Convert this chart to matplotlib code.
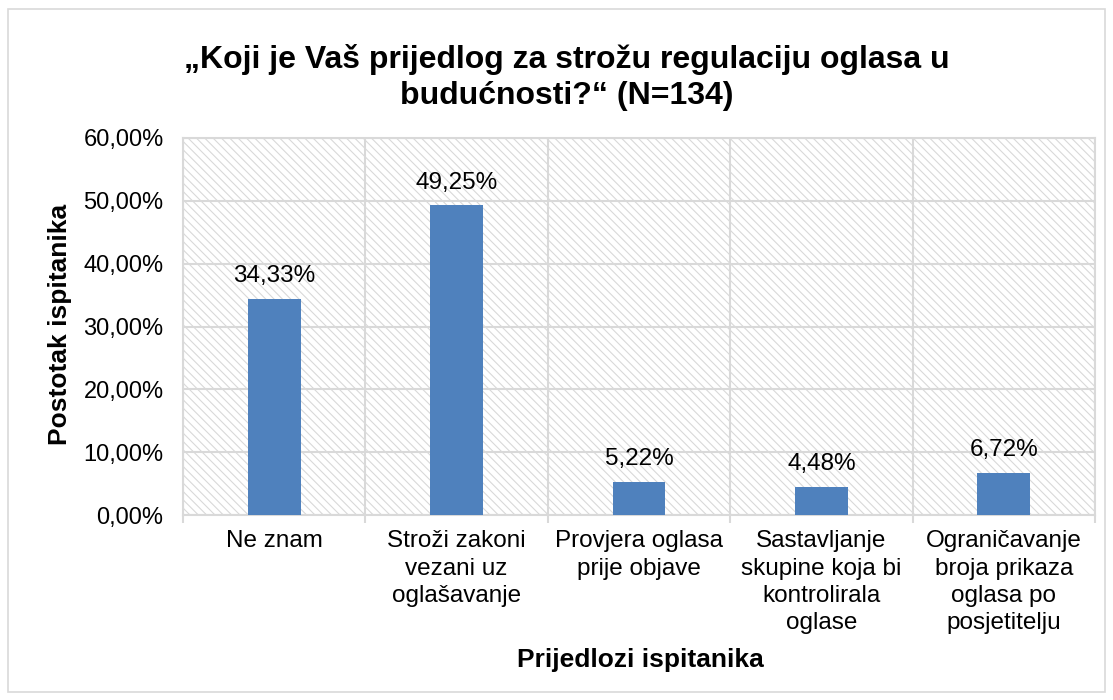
import numpy as np, matplotlib.pyplot as plt
from matplotlib.patches import Rectangle
from matplotlib.ticker import FixedLocator

plt.rcParams['font.family'] = ['Liberation Sans', 'DejaVu Sans']
plt.rcParams['hatch.linewidth'] = 0.8
plt.rcParams['hatch.color'] = '#d9d9d9'

categories = ["Ne znam", "Stroži zakoni\nvezani uz\noglašavanje", "Provjera oglasa\nprije objave",
              "Sastavljanje\nskupine koja bi\nkontrolirala\noglase",
              "Ograničavanje\nbroja prikaza\noglasa po\nposjetitelju"]
values = [34.33, 49.25, 5.22, 4.48, 6.72]
yticks = [0, 10, 20, 30, 40, 50, 60]

bar_color = '#4f81bd'
grid_color = '#d9d9d9'

fig = plt.figure(figsize=(11.13, 7), dpi=100)
ax = fig.add_axes([0.1644, 0.264, 0.8194, 0.539])

# outer chart border
fig.patches.append(Rectangle((8/1113, 8/700), 1097/1113, 683/700, transform=fig.transFigure,
                             fill=False, edgecolor=grid_color, linewidth=1.2))

x = np.arange(len(categories))
ax.set_xlim(-0.5, len(categories) - 0.5)
ax.set_ylim(0, 60)

# hatched plot background
ax.add_patch(Rectangle((0, 0), 1, 1, transform=ax.transAxes, facecolor='white',
                       hatch='\\\\\\\\', edgecolor=grid_color, linewidth=0, zorder=0))

ax.set_yticks(yticks)
ax.yaxis.set_major_formatter(lambda v, p: f"{v:.2f}".replace('.', ',') + '%')
ax.grid(axis='y', color=grid_color, linewidth=1.5, zorder=1)
ax.xaxis.set_minor_locator(FixedLocator(np.arange(-0.5, len(categories), 1)))
ax.grid(axis='x', which='minor', color=grid_color, linewidth=1.5, zorder=1)
ax.tick_params(axis='x', which='minor', length=6, color=grid_color, width=1.5)
ax.tick_params(axis='x', which='major', length=0, pad=11)
ax.tick_params(axis='y', length=0, pad=14)
ax.set_xticks(x)
ax.set_xticklabels(categories, fontsize=17.5, linespacing=1.3, va='top')
for t in ax.get_yticklabels():
    t.set_fontsize(17)

for s in ax.spines.values():
    s.set_color(grid_color)
    s.set_linewidth(1.5)

bars = ax.bar(x, values, width=0.29, color=bar_color, zorder=3)
for xi, v in zip(x, values):
    ax.text(xi, v + 1.9, f"{v:.2f}".replace('.', ',') + '%', ha='center', va='bottom', fontsize=17.5)

fig.text(0.509, 0.889, "„Koji je Vaš prijedlog za strožu regulaciju oglasa u\nbudućnosti?“ (N=134)",
         ha='center', va='center', fontsize=23, fontweight='bold', linespacing=1.25)
fig.text(0.054, 0.536, "Postotak ispitanika", rotation=90, ha='center', va='center',
         fontsize=19, fontweight='bold')
fig.text(0.575, 0.057, "Prijedlozi ispitanika", ha='center', va='center', fontsize=19, fontweight='bold')

fig.savefig('out.png', dpi=100)
